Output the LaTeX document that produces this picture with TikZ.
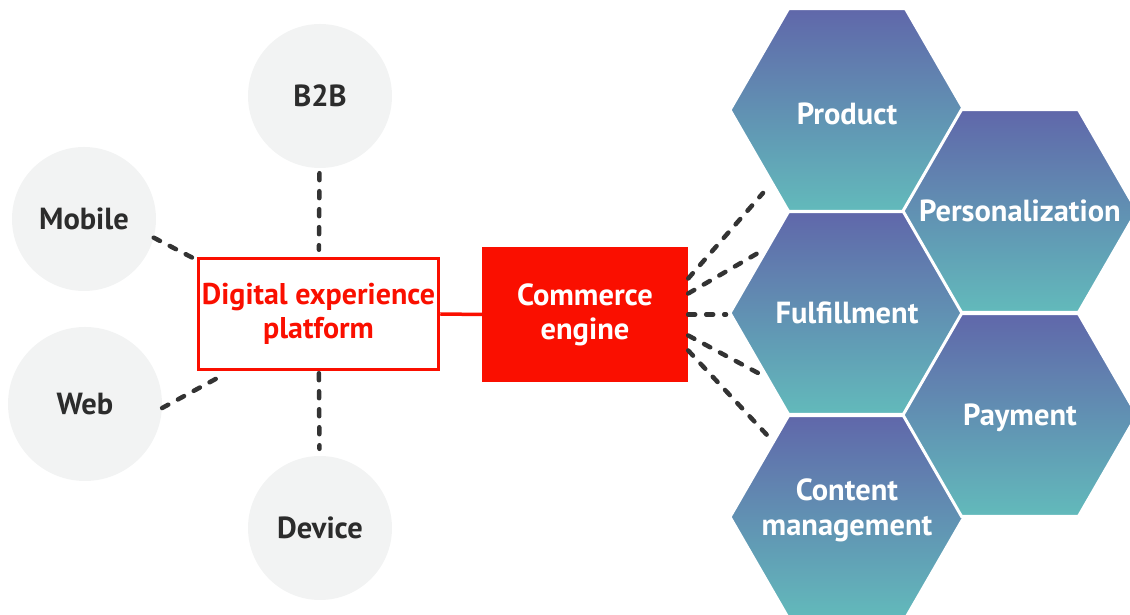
\documentclass[tikz,border=0pt]{standalone}
\usepackage{fontspec}
\setmainfont{PT Sans}
\usetikzlibrary{shapes.geometric}

\definecolor{adobered}{RGB}{250,15,0}
\definecolor{circlegray}{RGB}{242,243,243}
\definecolor{textgray}{RGB}{44,44,44}
\definecolor{dashgray}{RGB}{51,51,51}
\definecolor{hextop}{RGB}{96,103,170}
\definecolor{hexbot}{RGB}{98,186,187}

\begin{document}
\begin{tikzpicture}[x=1pt,y=1pt,
    channel/.style={circle, fill=circlegray, minimum size=144pt, inner sep=0pt,
        text=textgray, font=\fontsize{30.5}{34}\selectfont\bfseries},
    dashline/.style={dashgray, line width=4.5pt, line cap=round, dash pattern=on 7pt off 11pt},
    hexa/.style={regular polygon, regular polygon sides=6, minimum size=234pt, inner sep=0pt,
        top color=hextop, bottom color=hexbot, draw=white, line width=3pt},
    hexlabel/.style={text=white, align=center, font=\fontsize{30.5}{35}\selectfont\bfseries}]

    \useasboundingbox (0,0) rectangle (1130,615);
    \clip (0,0) rectangle (1130,615);

    % channels
    \node[channel] (b2b) at (320,519) {B2B};
    \node[channel] (mobile) at (84,396) {Mobile};
    \node[channel, minimum size=154pt] (web) at (85,211) {Web};
    \node[channel] (device) at (320,87) {Device};

    \node[draw=adobered, line width=3.5pt, minimum width=240pt, minimum height=111pt,
        text=adobered, align=center, font=\fontsize{30}{34}\selectfont\bfseries]
        (dxp) at (318.5,301) {Digital experience\\platform};

    \node[fill=adobered, minimum width=206pt, minimum height=135pt, inner sep=0pt,
        text=white, align=center, font=\fontsize{30.5}{34}\selectfont\bfseries]
        (ce) at (585,300.5) {Commerce\\engine};

    \draw[adobered, line width=3.5pt] (dxp.east) -- (ce.west);

    \draw[dashline, shorten <=5pt, shorten >=7pt] (b2b) -- (dxp);
    \draw[dashline, shorten <=2pt, shorten >=7pt] (dxp) -- (device);
    \coordinate (mobend) at (193,357);
    \coordinate (webend) at (223,240);
    \draw[dashline] (mobile.-15) -- (mobend);
    \draw[dashline] (web.-3) -- (webend);

    % hexagons
    \node[hexa] (product) at (847,505) {};
    \node[hexa] (fulfil) at (847,302) {};
    \node[hexa] (content) at (847,98) {};
    \node[hexa] (person) at (1020,404) {};
    \node[hexa] (payment) at (1020,200) {};

    \node[hexlabel] at ([yshift=-4pt]product) {Product};
    \node[hexlabel] at (person) {Personalization};
    \node[hexlabel] at (fulfil) {Fulfillment};
    \node[hexlabel] at ([yshift=-3pt]payment) {Payment};
    \node[hexlabel] at ([yshift=7pt]content) {Content\\management};

    \coordinate (f1) at (763,422);
    \coordinate (f2) at (758,362);
    \coordinate (f3) at (726,300.5);
    \coordinate (f4) at (758,242);
    \coordinate (f5) at (767,180);

    \draw[dashline] ([yshift=36pt]ce.east) -- (f1);
    \draw[dashline] ([yshift=21pt]ce.east) -- (f2);
    \draw[dashline] (ce.east) -- (f3);
    \draw[dashline] ([yshift=-21pt]ce.east) -- (f4);
    \draw[dashline] ([yshift=-36pt]ce.east) -- (f5);
\end{tikzpicture}
\end{document}
